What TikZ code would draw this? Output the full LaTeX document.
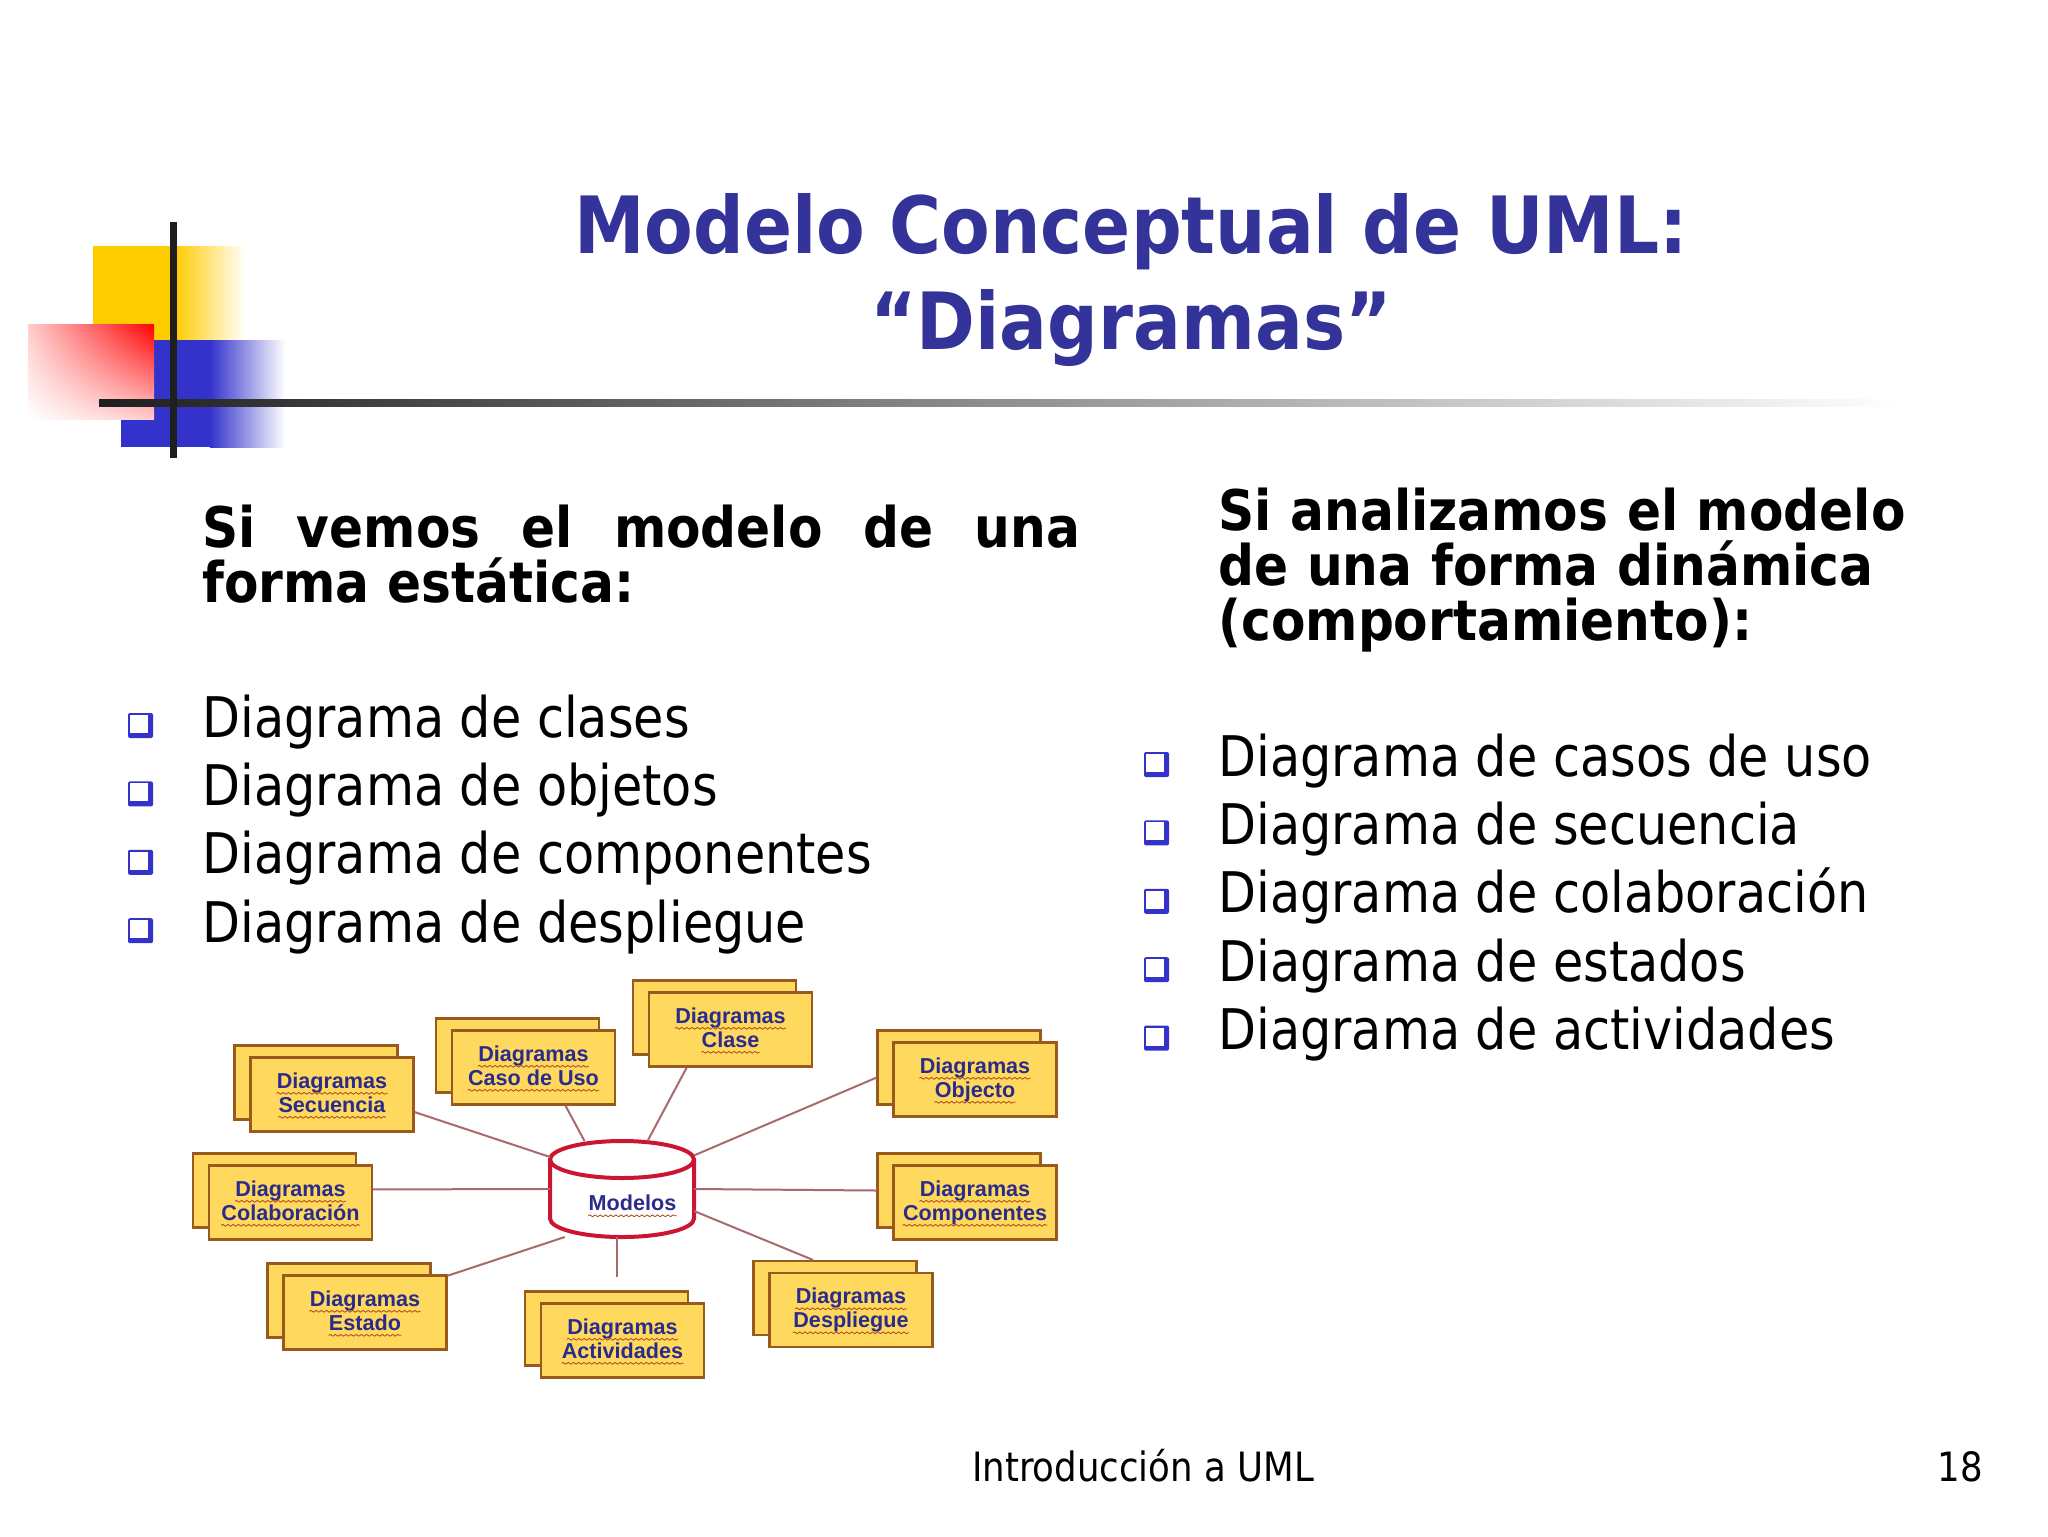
\documentclass[tikz,border=0pt]{standalone}
\usepackage{fontspec}
\usepackage{xcolor}
\usepackage{tikz}
\usetikzlibrary{positioning,calc,decorations.pathmorphing,shadings}
\setmainfont{DejaVu Sans}[FakeStretch=0.88,BoldFeatures={FakeStretch=0.897}]
\newfontfamily\boxfont{Liberation Sans}
\definecolor{titleblue}{HTML}{333399}
\definecolor{logoblue}{HTML}{3333CC}
\definecolor{logoyellow}{HTML}{FFCC00}
\definecolor{boxfill}{HTML}{FFD95E}
\definecolor{boxline}{HTML}{9A5A1E}
\definecolor{linkline}{HTML}{A86A6A}
\definecolor{dbred}{HTML}{CC1530}
\definecolor{boxtext}{HTML}{2B2B8C}

\begin{document}
\begin{tikzpicture}[
	x=0.5pt, y=-0.5pt,
	titletext/.style={
		font=\fontsize{39.5}{48}\selectfont\bfseries, text=titleblue,
		anchor=base, inner sep=0pt
	},
	headtext/.style={
		font=\fontsize{28}{27.5}\selectfont\bfseries,
		anchor=north west, inner sep=0pt, align=justify
	},
	itemtext/.style={
		font=\fontsize{28}{34}\selectfont,
		anchor=base west, inner sep=0pt
	},
	foottext/.style={
		font=\fontsize{20.2}{24}\selectfont,
		anchor=base, inner sep=0pt
	},
	diagbox/.style={
		draw=boxline, fill=boxfill, line width=1.1pt,
		minimum width=81.5pt, minimum height=37pt, inner sep=0pt
	},
	boxlabel/.style={
		font=\boxfont\fontsize{10.8}{12}\selectfont\bfseries, text=boxtext,
		inner sep=0pt, text height=8pt, text depth=2.4pt
	},
	wavy/.style={
		draw=boxline!80!red, line width=0.4pt,
		decorate, decoration={snake, amplitude=0.45pt, segment length=2.6pt}
	},
	link/.style={
		draw=linkline, line width=1pt
	},
	dbnode/.style={
		minimum width=72pt, minimum height=48pt, inner sep=0pt, outer sep=0pt
	},
	dbshape/.style={
		draw=dbred, fill=white, line width=2pt
	}
	]
	\useasboundingbox (0,0) rectangle (2048,1536);
	\fill[white] (0,0) rectangle (2048,1536);
	
	% Logo
	\fill[logoyellow] (93,246) rectangle (176,340);
	\shade[left color=logoyellow, right color=white] (175,246) rectangle (245,340);
	\fill[logoblue] (121,340) rectangle (211,447);
	\shade[left color=logoblue, right color=white] (210,340) rectangle (285,447);
	\shade[upper right=red, lower left=white, upper left=red!20!white, lower right=red!20!white] (28,324) rectangle (154,419);
	\shade[left color=black!88, middle color=black!40, right color=white] (99,399) rectangle (1900,406);
	\fill[black!88] (170,222) rectangle (177,458);
	
	% Titulo
	\node[titletext] (title1) at (1131,253) {Modelo Conceptual de UML:};
	\node[titletext] (title2) at (1131,349) {“Diagramas”};
	
	% Columna izquierda
	\node[headtext, text width=439pt] (headL) at (202,505) {Si vemos el modelo de una forma estática:};
	\foreach \i/\txt in {0/Diagrama de clases, 1/Diagrama de objetos, 2/Diagrama de componentes, 3/Diagrama de despliegue} {
		\node[itemtext] (itemL\i) at (202,737+68.4*\i) {\txt};
		\fill[logoblue, rounded corners=1pt] (128,713+68.4*\i) rectangle +(25,25);
		\fill[white] (130,715+68.4*\i) rectangle +(18,18);
	}
	
	% Columna derecha
	\node[headtext, text width=350pt, align=left] (headR) at (1218,488) {Si analizamos el modelo\\de una forma dinámica\\(comportamiento):};
	\foreach \i/\txt in {0/Diagrama de casos de uso, 1/Diagrama de secuencia, 2/Diagrama de colaboración, 3/Diagrama de estados, 4/Diagrama de actividades} {
		\node[itemtext] (itemR\i) at (1218,776+68.4*\i) {\txt};
		\fill[logoblue, rounded corners=1pt] (1144,752+68.4*\i) rectangle +(25,25);
		\fill[white] (1146,754+68.4*\i) rectangle +(18,18);
	}
	
	% Cajas de diagramas
	\foreach \boxname/\x/\y/\txt in {dSec/332/1094.5/Secuencia, dCaso/533.5/1067.5/Caso de Uso, dClase/730.5/1029.5/Clase, dObj/975/1079.5/Objecto, dComp/975/1202.5/Componentes, dDesp/851/1310/Despliegue, dAct/622.5/1340.5/Actividades, dEst/365/1312.5/Estado, dCol/290.5/1202.5/Colaboración} {
		\node[diagbox] (\boxname back) at (\x-16,\y-12) {};
		\node[diagbox] (\boxname) at (\x,\y) {};
		\node[boxlabel] (\boxname a) at (\x,\y-12) {Diagramas};
		\node[boxlabel] (\boxname b) at (\x,\y+12) {\txt};
		\draw[wavy] (\boxname a.south west) -- (\boxname a.south east);
		\draw[wavy] (\boxname b.south west) -- (\boxname b.south east);
	}
	
	% Modelos
	\node[dbnode] (db) at (622,1189) {};
	\draw[dbshape] (550,1159.5) -- (550,1218.5) arc[start angle=180, end angle=360, x radius=36pt, y radius=9.25pt] -- (694,1159.5) arc[start angle=0, end angle=180, x radius=36pt, y radius=9.25pt] -- cycle;
	\draw[dbshape, fill=none] (550,1159.5) arc[start angle=180, end angle=360, x radius=36pt, y radius=9.25pt];
	\node[boxlabel] (dbText) at (632.5,1205) {Modelos};
	\draw[wavy] (dbText.south west) -- (dbText.south east);
	
	% Conexiones
	\coordinate (actEnd) at (617,1277);
	\draw[link] (dSec.-12) -- (db.156);
	\draw[link] (dCaso.-50) -- (db.128.4);
	\draw[link] (dClase.-139) -- (db.62.5);
	\draw[link] (dObjback.187) -- (db.25.9);
	\draw[link] (dCompback.180) -- (db.0);
	\draw[link] (dDespback.120) -- (db.-17);
	\draw[link] (actEnd) -- (actEnd |- db.south);
	\draw[link] (dEst.24.6) -- (db.-140.9);
	\draw[link] (dCol.9.4) -- (db.180);
	
	% Pie
	\node[foottext] (foot) at (1143,1481) {Introducción a UML};
	\node[foottext, anchor=base east] (page) at (1983,1481) {18};
\end{tikzpicture}
\end{document}
